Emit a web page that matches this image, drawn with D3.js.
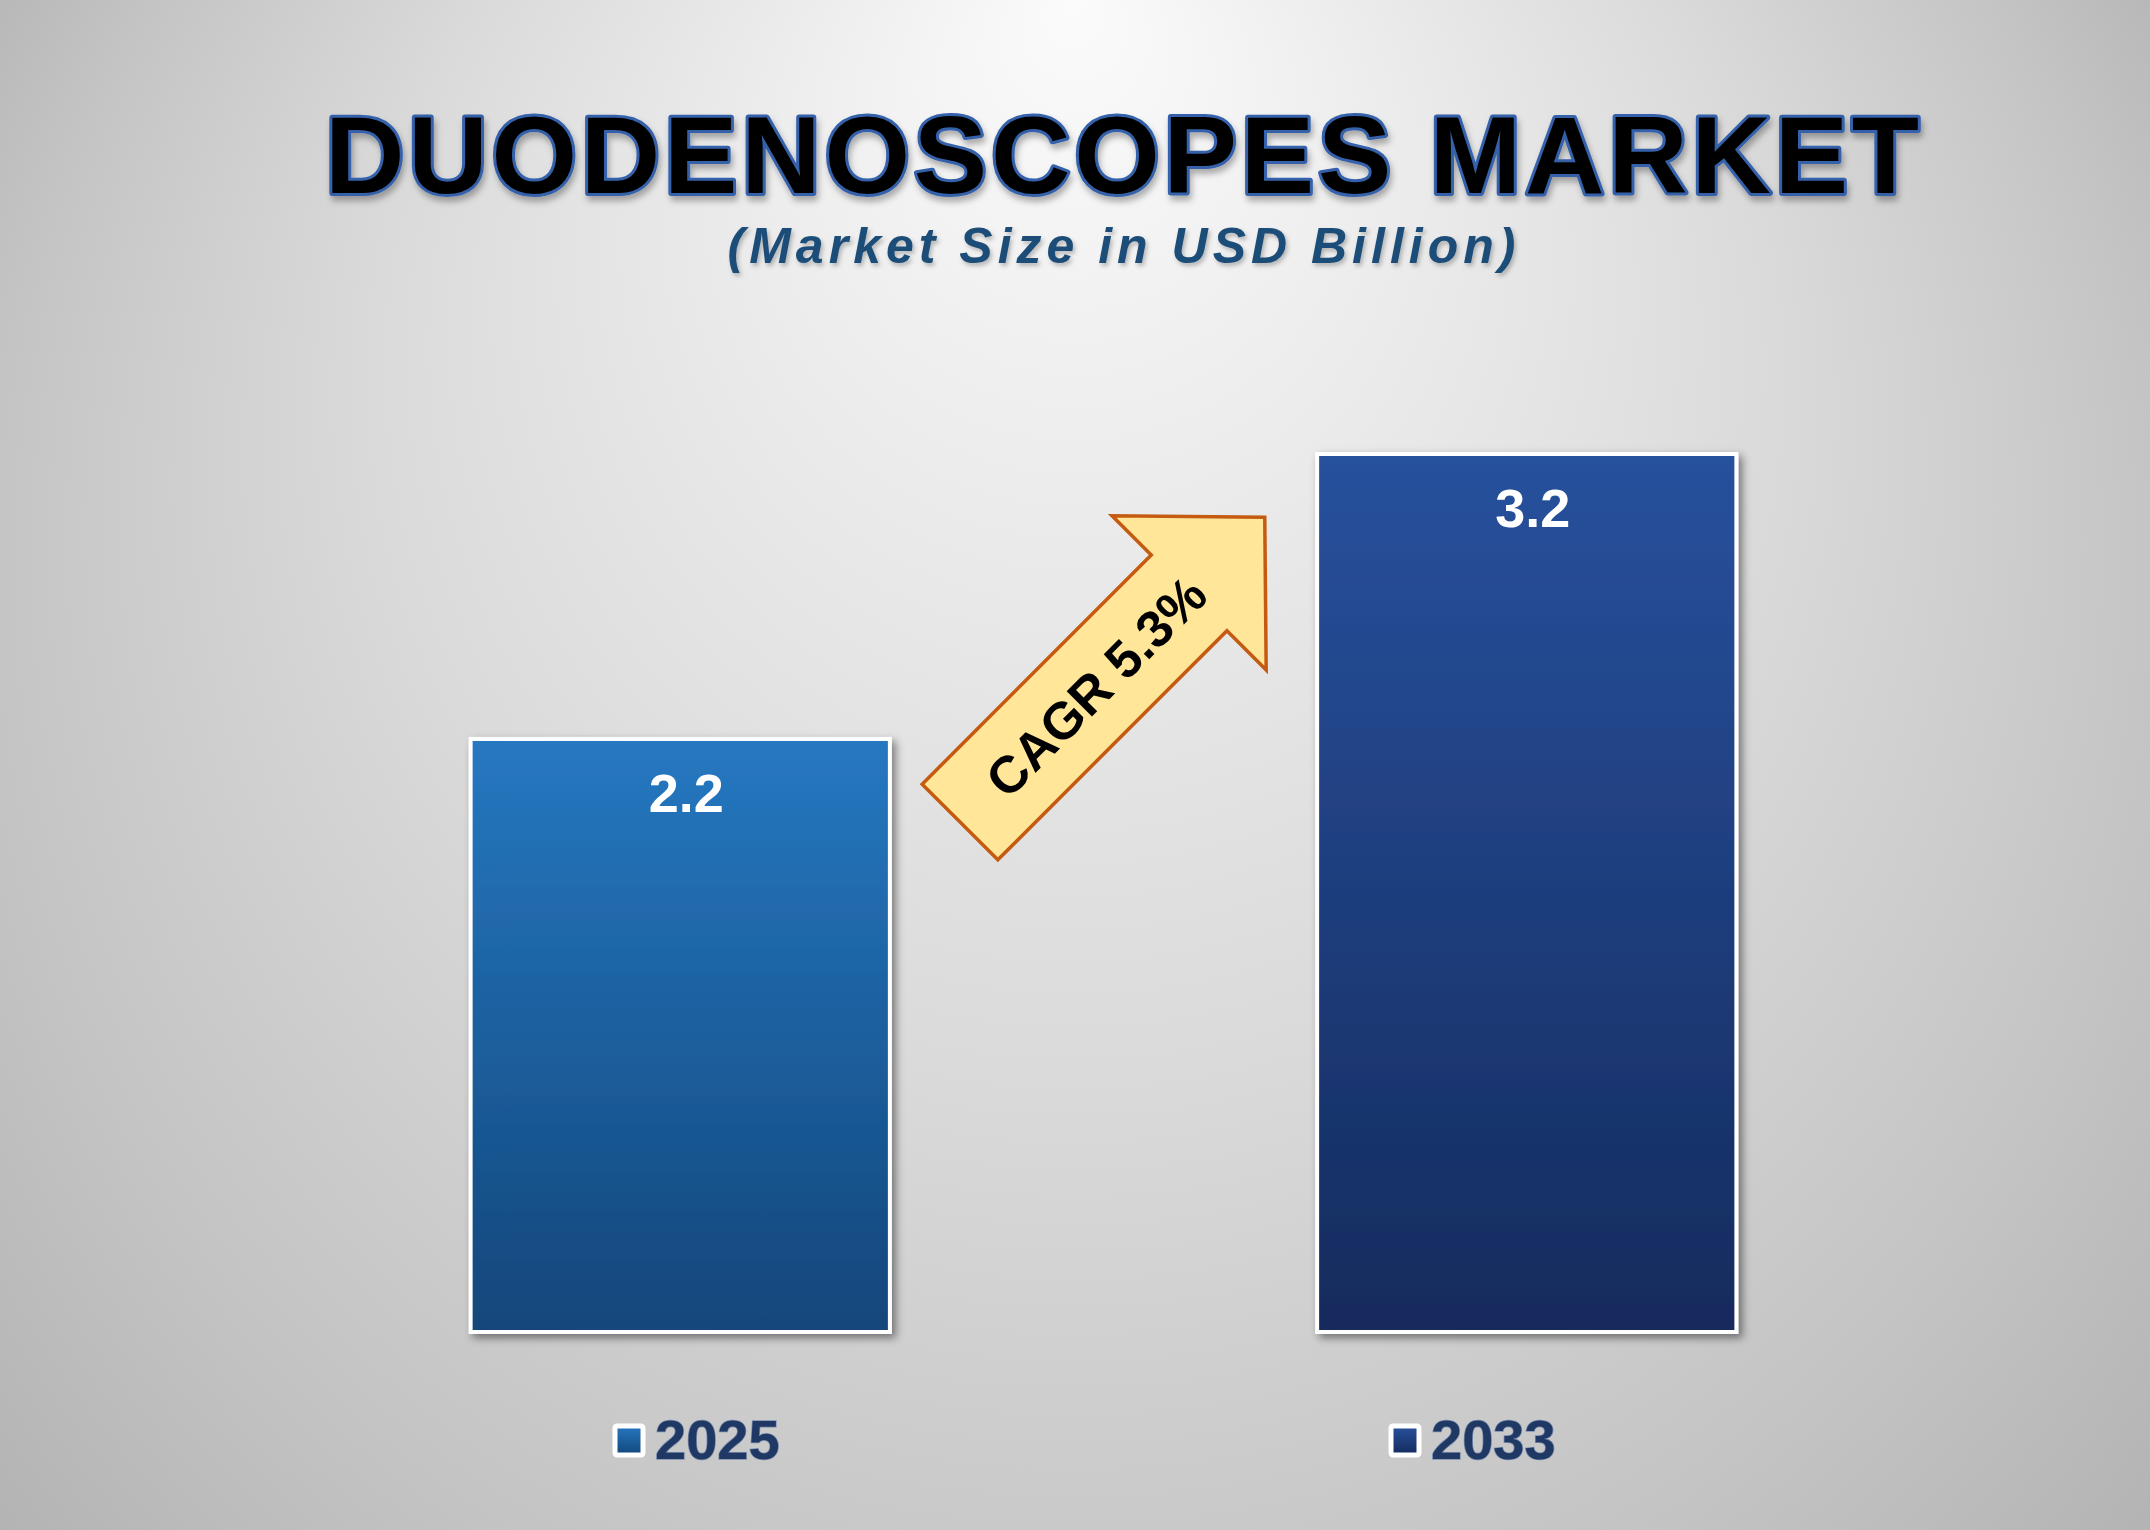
<!DOCTYPE html>
<html>
<head>
<meta charset="utf-8">
<script src="https://cdn.jsdelivr.net/npm/d3@7"></script>
<style>
  html, body { margin: 0; padding: 0; overflow: hidden; }
  svg { display: block; }
  text { font-family: "Liberation Sans", Arial, sans-serif; font-weight: bold; }
</style>
</head>
<body>
<div id="chart"></div>
<script>
// --- Data ---
const YEARS = ["2025", "2033"];
const MARKET_SIZE = [2.2, 3.2];
const CAGR_TEXT = "CAGR 5.3%";
const TITLE = "DUODENOSCOPES MARKET";
const SUBTITLE = "(Market Size in USD Billion)";

// bar gradient colours per year (top, bottom)
const BAR_COLORS = [
  ["#2678c1", "#12467a"],
  ["#28519d", "#142b5d"]
];

// --- Layout ---
const width = 2150;
const height = 1530;
const baseline = 1334;
const plotTop = 452;

const svg = d3
  .select("#chart")
  .append("svg")
  .attr("width", width)
  .attr("height", height);

const defs = svg.append("defs");

// background: light spot near the top, greying toward the edges
const bg = defs
  .append("radialGradient")
  .attr("id", "bg")
  .attr("gradientUnits", "userSpaceOnUse")
  .attr("cx", 1075)
  .attr("cy", 835)
  .attr("r", 1555)
  .attr("fx", 1075)
  .attr("fy", 0);
bg.append("stop").attr("offset", 0).attr("stop-color", "#fbfbfb");
bg.append("stop").attr("offset", 0.45).attr("stop-color", "#dadada");
bg.append("stop").attr("offset", 0.7).attr("stop-color", "#c4c4c4");
bg.append("stop").attr("offset", 1).attr("stop-color", "#a6a6a6");

BAR_COLORS.forEach((c, i) => {
  const g = defs
    .append("linearGradient")
    .attr("id", "bar" + i)
    .attr("x1", 0).attr("y1", 0)
    .attr("x2", 0).attr("y2", 1);
  g.append("stop").attr("offset", 0).attr("stop-color", c[0]);
  g.append("stop").attr("offset", 1).attr("stop-color", c[1]);
});

const shadow = defs.append("filter").attr("id", "shadow")
  .attr("x", "-10%").attr("y", "-10%").attr("width", "130%").attr("height", "130%");
shadow.append("feDropShadow")
  .attr("dx", 4).attr("dy", 4).attr("stdDeviation", 4)
  .attr("flood-color", "#000").attr("flood-opacity", 0.45);

const textShadow = defs.append("filter").attr("id", "tshadow")
  .attr("x", "-5%").attr("y", "-20%").attr("width", "110%").attr("height", "150%");
textShadow.append("feDropShadow")
  .attr("dx", 2).attr("dy", 5).attr("stdDeviation", 3)
  .attr("flood-color", "#000").attr("flood-opacity", 0.3);

const subShadow = defs.append("filter").attr("id", "sshadow");
subShadow.append("feDropShadow")
  .attr("dx", 2).attr("dy", 3).attr("stdDeviation", 2)
  .attr("flood-color", "#000").attr("flood-opacity", 0.25);

svg.append("rect")
  .attr("width", width)
  .attr("height", height)
  .attr("fill", "url(#bg)");

// --- Titles ---
svg.append("text")
  .attr("x", 1122)
  .attr("y", 193)
  .attr("text-anchor", "middle")
  .attr("font-size", 110)
  .attr("textLength", 1594)
  .attr("lengthAdjust", "spacing")
  .attr("fill", "#000")
  .attr("stroke", "#3461aa")
  .attr("stroke-width", 6)
  .attr("stroke-linejoin", "round")
  .attr("paint-order", "stroke")
  .attr("filter", "url(#tshadow)")
  .text(TITLE);

svg.append("text")
  .attr("x", 1124)
  .attr("y", 263)
  .attr("text-anchor", "middle")
  .attr("font-size", 50)
  .attr("font-style", "italic")
  .attr("letter-spacing", 5)
  .attr("fill", "#1f4e79")
  .attr("filter", "url(#sshadow)")
  .text(SUBTITLE);

// --- Scales ---
const xScale = d3
  .scaleBand()
  .domain(YEARS)
  .range([257, 1950])
  .paddingInner(0.5)
  .paddingOuter(0.25);

const yScale = d3
  .scaleLinear()
  .domain([0.105, 3.2])
  .range([baseline, plotTop]);

const bars = YEARS.map((year, i) => ({ year, value: MARKET_SIZE[i], idx: i }));

// --- Bars ---
svg.selectAll("rect.bar")
  .data(bars)
  .join("rect")
  .attr("class", "bar")
  .attr("x", (d) => xScale(d.year) + 2)
  .attr("y", (d) => yScale(d.value) + 2)
  .attr("width", xScale.bandwidth() - 4)
  .attr("height", (d) => baseline - yScale(d.value) - 4)
  .attr("fill", (d) => `url(#bar${d.idx})`)
  .attr("stroke", "#fff")
  .attr("stroke-width", 4)
  .attr("filter", "url(#shadow)");

svg.selectAll("text.value")
  .data(bars)
  .join("text")
  .attr("class", "value")
  .attr("x", (d) => xScale(d.year) + xScale.bandwidth() / 2 + 6)
  .attr("y", (d) => yScale(d.value) + 75)
  .attr("text-anchor", "middle")
  .attr("font-size", 54)
  .attr("fill", "#fff")
  .text((d) => d.value.toFixed(1));

// --- CAGR arrow (drawn along its own axis, then turned 45 degrees) ---
const arrowLen = 431, shaftHalf = 53.5, headHalf = 109, headLen = 107;
const arrowPts = [
  [0, -shaftHalf],
  [arrowLen - headLen, -shaftHalf],
  [arrowLen - headLen, -headHalf],
  [arrowLen, 0],
  [arrowLen - headLen, headHalf],
  [arrowLen - headLen, shaftHalf],
  [0, shaftHalf]
];
const arrowG = svg.append("g")
  .attr("transform", "translate(960,822) rotate(-45)");

arrowG.append("path")
  .attr("d", d3.line()(arrowPts) + "Z")
  .attr("fill", "#ffe699")
  .attr("stroke", "#c55a11")
  .attr("stroke-width", 3.5)
  .attr("stroke-linejoin", "miter");

arrowG.append("text")
  .attr("x", 192)
  .attr("y", 0)
  .attr("dy", "0.36em")
  .attr("text-anchor", "middle")
  .attr("font-size", 52)
  .attr("fill", "#000")
  .text(CAGR_TEXT);

// --- Legend ---
const legendX = d3.scalePoint().domain(YEARS).range([613, 1389]);

const legend = svg.selectAll("g.legend")
  .data(bars)
  .join("g")
  .attr("class", "legend")
  .attr("transform", (d) => `translate(${legendX(d.year)},1424)`);

legend.append("rect")
  .attr("x", 2).attr("y", 2)
  .attr("width", 28).attr("height", 29)
  .attr("rx", 2)
  .attr("fill", (d) => `url(#bar${d.idx})`)
  .attr("stroke", "#fff")
  .attr("stroke-width", 5);

legend.append("text")
  .attr("x", 42)
  .attr("y", 35)
  .attr("font-size", 56)
  .attr("fill", "#1f3864")
  .attr("stroke", "#7d8fb0")
  .attr("stroke-width", 1.5)
  .attr("paint-order", "stroke")
  .text((d) => d.year);
</script>
</body>
</html>
